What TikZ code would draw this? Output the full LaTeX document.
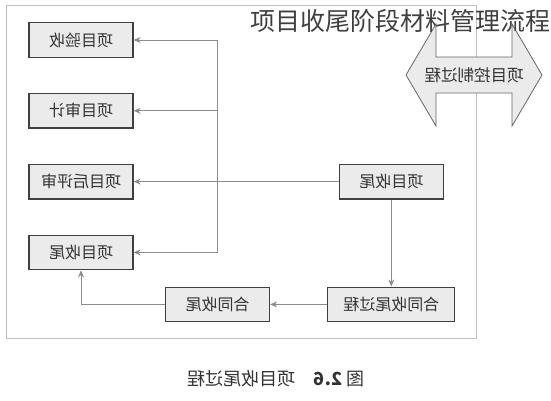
\documentclass[tikz,border=0pt]{standalone}
\usepackage{fontspec}
\setmainfont{Noto Sans CJK SC}
\usepackage{graphicx}
\usepackage{xcolor}
\usepackage{tikz}
\usetikzlibrary{arrows.meta,positioning,fit,backgrounds,calc}
\newcommand{\espejo}[1]{\reflectbox{#1}}
\definecolor{grisfondo}{HTML}{EBEBEB}
\tikzset{
  caja/.style      = {rectangle, draw=black!75, line width=1.3pt,
                      fill=grisfondo, text=black!80, inner sep=2pt,
                      minimum width=104pt, minimum height=34.5pt,
                      font=\fontsize{16}{18}\selectfont},
  cajaancha/.style = {caja, minimum width=127pt},
  flecha/.style    = {-{Stealth[length=7pt,width=6pt]}, line width=0.9pt,
                      draw=black!45},
  linea/.style     = {line width=0.9pt, draw=black!45},
  control/.style   = {draw=black!60, line width=0.8pt, fill=grisfondo},
  marco/.style     = {draw=black!25, line width=1pt},
}
\begin{document}
\begin{tikzpicture}[x=1pt, y=-1pt, node distance=35pt and 205pt]
    \useasboundingbox (0,0) rectangle (551,400);

    % --- columna izquierda
    \node[caja] (ys) at (81,40) {\espejo{项目验收}};
    \node[caja, below=of ys] (sj) {\espejo{项目审计}};
    \node[caja, below=of sj] (hp) {\espejo{项目后评审}};
    \node[caja, below=of hp] (xs) {\espejo{项目收尾}};

    % --- columna derecha
    \node[caja, right=of hp] (xm) {\espejo{项目收尾}};
    \node[cajaancha, below=87pt of xm] (hsgc) {\espejo{合同收尾过程}};
    \node[caja, left=57pt of hsgc] (hs) {\espejo{合同收尾}};

    % --- control, titulo y pie
    \node[inner sep=0, text=black!80, font=\fontsize{16.5}{18}\selectfont]
      (kz) at (474,75) {\espejo{项目控制过程}};
    \node[anchor=east, inner sep=0, text=black!75,
          font=\fontsize{25}{28}\selectfont] (tit) at (551,21)
      {项目收尾阶段材料管理流程};
    \node[text=black!80, font=\fontsize{18}{20}\selectfont] (pie) at (276,379)
      {\espejo{图 \textbf{2.6}\quad 项目收尾过程}};

    % --- flechas
    \coordinate (busA) at (hs |- ys.east);
    \coordinate (busS) at (hs |- sj.east);
    \coordinate (busB) at (hs |- xs.east);
    \draw[linea] (busA) -- (busB);
    \draw[flecha] (busA) -- (ys.east);
    \draw[flecha] (busS) -- (sj.east);
    \draw[flecha] (xm.west) -- (hp.east);
    \draw[flecha] (busB) -- (xs.east);
    \draw[flecha] (xm.south) -- (hsgc.north);
    \draw[flecha] (hsgc.west) -- (hs.east);
    \draw[flecha] (hs.west) -| (xs.south);

    \begin{scope}[on background layer]
      \node[fit=(ys)(hsgc), marco, inner xsep=21.5pt, inner ysep=16.5pt]
        (recuadro) {};
      \draw[control] ([xshift=-68pt]kz.center)
        -- ([xshift=-38pt,yshift=51pt]kz.center)
        -- ([xshift=-38pt,yshift=18pt]kz.center)
        -- ([xshift=38pt,yshift=18pt]kz.center)
        -- ([xshift=38pt,yshift=51pt]kz.center)
        -- ([xshift=68pt]kz.center)
        -- ([xshift=38pt,yshift=-51pt]kz.center)
        -- ([xshift=38pt,yshift=-18pt]kz.center)
        -- ([xshift=-38pt,yshift=-18pt]kz.center)
        -- ([xshift=-38pt,yshift=-51pt]kz.center) -- cycle;
    \end{scope}
  \end{tikzpicture}
\end{document}
